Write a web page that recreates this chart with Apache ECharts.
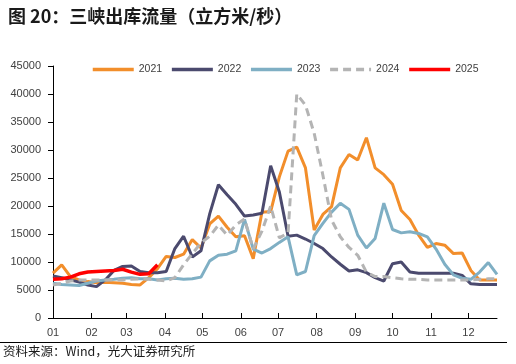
<!DOCTYPE html>
<html>
<head>
<meta charset="utf-8">
<script src="https://cdn.jsdelivr.net/npm/echarts@6/dist/echarts.min.js"></script>
<style>
html,body{margin:0;padding:0;background:#fff;}
#c{width:516px;height:364px;}
</style>
</head>
<body>
<div id="c"></div>
<script>
// Weekly samples (day of year = index*7)
const seriesNames = ['2021', '2022', '2023', '2024', '2025'];
const s2021 = [8000, 9500, 7400, 6800, 6500, 6300, 6400, 6300, 6200, 6000, 5900, 7200, 8800, 11000, 10800, 11400, 14000, 12500, 16800, 18200, 16200, 14500, 14700, 10600, 18900, 19000, 25200, 29800, 30500, 26800, 15700, 18500, 19900, 26800, 29200, 28200, 32200, 26800, 25600, 23900, 19200, 17600, 14800, 12600, 13300, 13000, 11500, 11600, 8500, 6800, 6800, 6800];
const s2022 = [7500, 7200, 6800, 6400, 5900, 5600, 6800, 8500, 9200, 9300, 8300, 8100, 8100, 8300, 12400, 14600, 10900, 12000, 18600, 23800, 22000, 20300, 18200, 18400, 18700, 27200, 22500, 14600, 14800, 14100, 13300, 12400, 10900, 9600, 8400, 8600, 8100, 7200, 6600, 9700, 10000, 8200, 8000, 8000, 8000, 8000, 8000, 7600, 6100, 6000, 6000, 6000];
const s2023 = [6200, 6000, 5900, 5800, 6200, 6600, 6800, 6900, 7100, 7200, 7000, 7000, 6800, 7000, 7100, 6900, 7000, 7300, 10200, 11200, 11400, 12000, 17600, 12300, 11600, 12400, 13500, 14500, 7700, 8300, 14700, 16900, 18900, 20500, 19400, 14800, 12500, 14200, 20500, 15800, 15200, 15400, 15100, 14500, 12300, 9600, 7700, 7100, 6900, 8200, 9900, 7800];
const s2024 = [5900, 6200, 6600, 6800, 6800, 6800, 6800, 6800, 6800, 6900, 7000, 6900, 6800, 6600, 7200, 9500, 11500, 13400, 14600, 16600, 14800, 16600, 17700, 12300, 15500, 20000, 14300, 15200, 40000, 38000, 33000, 25500, 17500, 14500, 12600, 11200, 8200, 7400, 7400, 7200, 7000, 6900, 6900, 6800, 6800, 6800, 6800, 6800, 6800, 6900, 7000, 7000];
const s2025 = [6900, 7000, 7300, 7900, 8200, 8300, 8400, 8500, 8700, 8200, 7800, 7900, 9500];
const monthLabels = ['01', '02', '03', '04', '05', '06', '07', '08', '09', '10', '11', '12'];
const monthStartDays = [0, 31, 59, 90, 120, 151, 181, 212, 243, 273, 304, 334];
const yTicks = [0, 5000, 10000, 15000, 20000, 25000, 30000, 35000, 40000, 45000];

const colors = ['#F28E2B', '#4B4A6E', '#7FAFC4', '#B4B4B4', '#FF0000'];
const allData = [s2021, s2022, s2023, s2024, s2025];

function toPairs(arr) { return arr.map((v, i) => [i * 7, v]); }

const chart = echarts.init(document.getElementById('c'), null, {renderer: 'canvas'});
const latin = '"Liberation Sans", Arial, sans-serif';
const cjk = '"Noto Sans CJK SC", sans-serif';

const series = allData.map((d, k) => ({
  name: seriesNames[k],
  type: 'line',
  data: toPairs(d),
  symbol: 'none',
  showSymbol: false,
  smooth: false,
  z: k === 4 ? 10 : 2 + k,
  lineStyle: {
    color: colors[k],
    width: k === 4 ? 3.5 : 3,
    type: k === 3 ? [8, 5] : 'solid'
  },
  itemStyle: {color: colors[k]}
}));

chart.setOption({
  animation: false,
  backgroundColor: '#fff',
  textStyle: {fontFamily: latin},
  title: {
    text: '图 20：三峡出库流量（立方米/秒）',
    left: 3, top: 2,
    textStyle: {fontSize: 18, fontWeight: 'bold', color: '#1a1a1a', fontFamily: cjk}
  },
  legend: {
    data: seriesNames,
    top: 64, left: 91, padding: 0,
    itemWidth: 41, itemHeight: 12, itemGap: 8,
    itemStyle: {opacity: 0},
    lineStyle: {width: 3.5},
    textStyle: {fontSize: 10.5, color: '#404040', fontFamily: latin}
  },
  grid: {left: 53, right: 19, top: 66, bottom: 46, containLabel: false},
  xAxis: {
    type: 'value',
    min: 0, max: 357,
    axisLine: {show: true, lineStyle: {color: '#000', width: 1}},
    axisTick: {show: true, inside: true, length: 5, lineStyle: {color: '#000'}, customValues: monthStartDays},
    axisLabel: {
      customValues: monthStartDays,
      formatter: function (v) { const i = monthStartDays.indexOf(v); return i >= 0 ? monthLabels[i] : ''; },
      fontSize: 11, color: '#404040', margin: 9, fontFamily: latin
    },
    splitLine: {show: false}
  },
  yAxis: {
    type: 'value',
    min: yTicks[0], max: yTicks[yTicks.length - 1], interval: 5000,
    axisLine: {show: true, lineStyle: {color: '#000', width: 1}},
    axisTick: {show: true, length: 5, lineStyle: {color: '#000'}},
    axisLabel: {fontSize: 11, color: '#404040', margin: 12, fontFamily: latin,
      formatter: function (v) { return String(v); }},
    splitLine: {show: false}
  },
  graphic: [
    {type: 'rect', shape: {x: 0, y: 342, width: 507, height: 1}, style: {fill: '#000'}},
    {type: 'text', left: 3, top: 345, style: {text: '资料来源：Wind，光大证券研究所', fontSize: 12.5, fill: '#1a1a1a', fontFamily: cjk}}
  ],
  series: series
});
</script>
</body>
</html>
